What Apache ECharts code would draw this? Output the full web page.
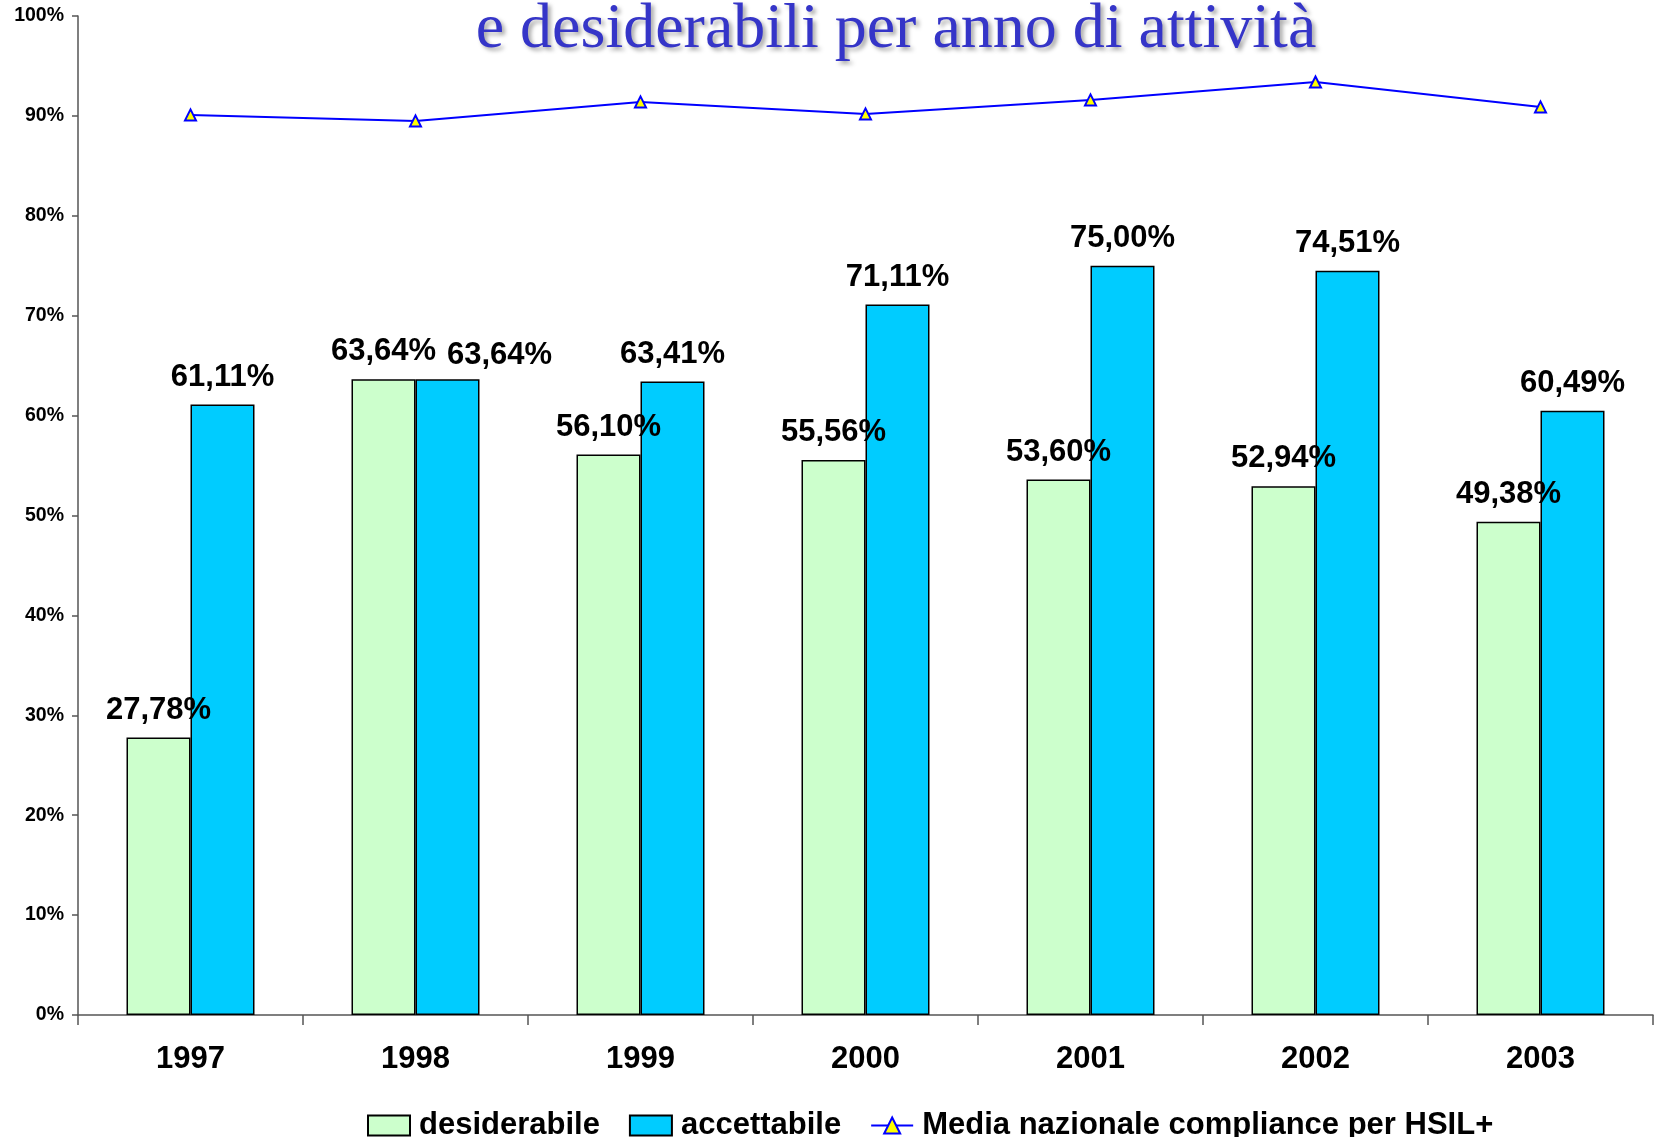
<!DOCTYPE html>
<html>
<head>
<meta charset="utf-8">
<script src="https://cdn.jsdelivr.net/npm/echarts@6/dist/echarts.min.js"></script>
<style>html,body{margin:0;padding:0;background:#fff}#c{width:1658px;height:1137px}</style>
</head>
<body>
<div id="c"></div>
<script>
const titleText = 'e desiderabili per anno di attività';
const years = ['1997','1998','1999','2000','2001','2002','2003'];
const desiderabile = [27.78, 63.64, 56.10, 55.56, 53.60, 52.94, 49.38];
const accettabile = [61.11, 63.64, 63.41, 71.11, 75.00, 74.51, 60.49];
const mediaNazionale = [90.1, 89.5, 91.4, 90.2, 91.6, 93.4, 90.9];
const seriesNames = ['desiderabile', 'accettabile', 'Media nazionale compliance per HSIL+'];

const fmt = v => v.toFixed(2).replace('.', ',') + '%';
const labelStyle = {show: true, position: 'top', distance: 12, fontFamily: 'Liberation Sans, Arial', fontWeight: 'bold', fontSize: 31, color: '#000', formatter: p => fmt(p.value)};

const chart = echarts.init(document.getElementById('c'));
chart.setOption({
  animation: false,
  backgroundColor: '#fff',
  graphic: [{
    type: 'text',
    style: {
      text: titleText, x: 896, y: 30, align: 'center', verticalAlign: 'middle',
      font: '64px "Liberation Serif", "Times New Roman", serif',
      fill: '#3535c8', textShadowColor: 'rgba(0,0,0,0.35)', textShadowBlur: 4,
      textShadowOffsetX: 3, textShadowOffsetY: 3
    }
  }],
  grid: {left: 78, right: 5, top: 16, bottom: 122, containLabel: false},
  legend: {
    data: seriesNames.map((n, i) => i < 2 ? {name: n, icon: 'rect'} : {name: n}),
    left: 362, top: 1105, itemWidth: 42, itemHeight: 20, itemGap: 29,
    textStyle: {fontFamily: 'Liberation Sans, Arial', fontWeight: 'bold', fontSize: 31, color: '#000', padding: [0, 0, 0, 4]}
  },
  xAxis: {
    type: 'category', data: years, boundaryGap: true,
    axisLine: {lineStyle: {color: '#555', width: 1.5}},
    axisTick: {show: true, length: 10, lineStyle: {color: '#555', width: 1.5}},
    axisLabel: {margin: 29, fontFamily: 'Liberation Sans, Arial', fontWeight: 'bold', fontSize: 31, color: '#000'}
  },
  yAxis: {
    type: 'value', min: 0, max: 100, interval: 10,
    splitLine: {show: false},
    axisLine: {show: true, lineStyle: {color: '#555', width: 1.5}},
    axisTick: {show: true, length: 6, lineStyle: {color: '#555', width: 1.5}},
    axisLabel: {margin: 14, formatter: v => v + '%', fontFamily: 'Liberation Sans, Arial', fontWeight: 'bold', fontSize: 19.5, color: '#000'}
  },
  series: [
    {name: seriesNames[0], type: 'bar', data: desiderabile, barWidth: 64, barGap: '0%',
     itemStyle: {color: '#ccffcc', borderColor: '#000', borderWidth: 1.5}, label: labelStyle},
    {name: seriesNames[1], type: 'bar', data: accettabile.map((v, i) => i === 1 ? {value: v, label: {offset: [52, 4]}} : v), barWidth: 64, barGap: '0%',
     itemStyle: {color: '#00ccff', borderColor: '#000', borderWidth: 1.5}, label: labelStyle},
    {name: seriesNames[2], type: 'line', data: mediaNazionale, symbol: 'triangle', symbolSize: 11,
     lineStyle: {color: '#0000ff', width: 2}, itemStyle: {color: '#ffff00', borderColor: '#0000ff', borderWidth: 2}}
  ]
});
</script>
</body>
</html>
